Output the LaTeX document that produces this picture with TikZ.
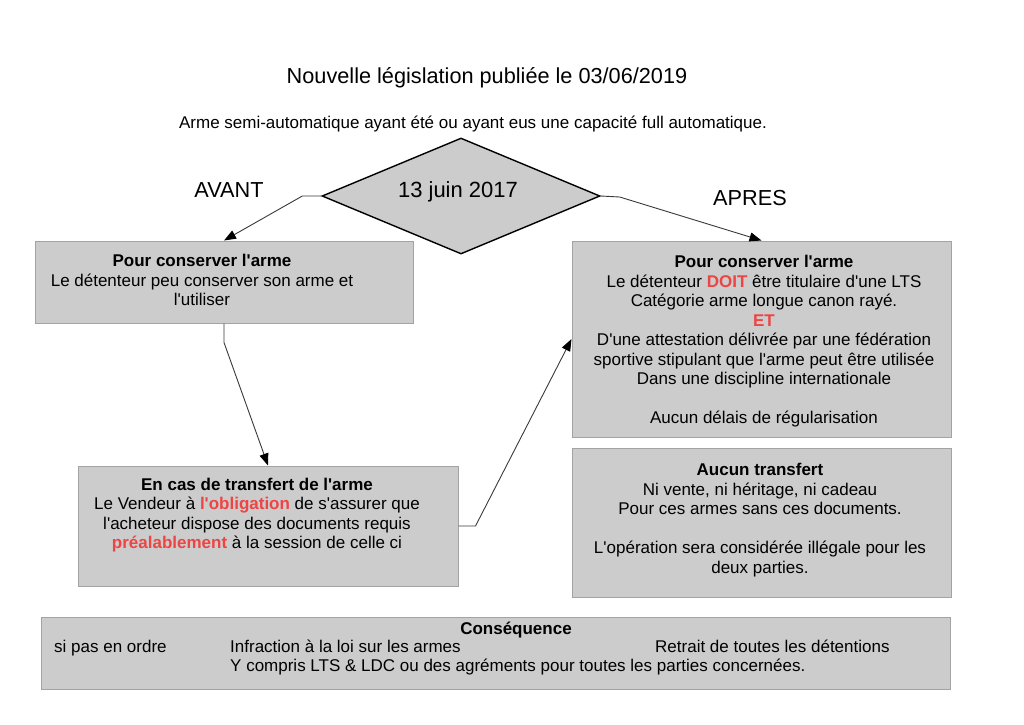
\documentclass[tikz,border=0pt]{standalone}
\usepackage{fontspec}
\setmainfont{Liberation Sans}[Ligatures=TeXOff]
\usetikzlibrary{shapes.geometric,arrows.meta}
\definecolor{boxgray}{HTML}{CCCCCC}
\definecolor{boxline}{HTML}{A3A3A3}
\definecolor{txtred}{HTML}{EE4444}
\definecolor{lncol}{HTML}{3A3A3A}
\begin{document}
\begin{tikzpicture}[x=1pt,y=-1pt,
  box/.style={draw=boxline,fill=boxgray,line width=1pt,inner sep=0pt},
  body/.style={font=\fontsize{17}{19.5}\selectfont,align=center,inner sep=0pt},
  conn/.style={draw=lncol,line width=0.9pt,-{Triangle[length=12pt,width=9pt,color=black]}},
  big/.style={font=\fontsize{21.7}{26}\selectfont,inner sep=0pt},
  lbl/.style={font=\fontsize{17}{19.5}\selectfont,inner sep=0pt,text height=12pt,text depth=3.5pt}]
\fill[white] (0,0) rectangle (1024,724);
\useasboundingbox (0,0) rectangle (1024,724);

% titles
\node[big] (title) at (487,78) {Nouvelle législation publiée le 03/06/2019};
\node[lbl] (sub) at (473,124) {Arme semi-automatique ayant été ou ayant eus une capacité full automatique.};

% diamond
\node[diamond,draw=black,fill=boxgray,line width=1.4pt,minimum width=278pt,minimum height=116pt,inner sep=0pt] (dia) at (461,196) {};
\node[font=\fontsize{22}{26}\selectfont,inner sep=0pt] (dt) at (458,192) {13 juin 2017};
\node[big] (avant) at (229,190) {AVANT};
\node[big] (apres) at (750,198) {APRES};

% boxes
\node[box,minimum width=378pt,minimum height=82pt] (b1) at (224,282) {};
\node[body] (t1) at (202,280) {\textbf{Pour conserver l'arme}\\Le détenteur peu conserver son arme et\\l'utiliser};

\node[box,minimum width=379pt,minimum height=196pt] (b2) at (761.5,339) {};
\node[body] (t2) at (764,341.5) {\textbf{Pour conserver l'arme}\\
Le détenteur \textcolor{txtred}{\textbf{DOIT}} être titulaire d'une LTS\\
Catégorie arme longue canon rayé.\\
\textcolor{txtred}{\textbf{ET}}\\
D'une attestation délivrée par une fédération\\
sportive stipulant que l'arme peut être utilisée\\
Dans une discipline internationale\\[19.5pt]
Aucun délais de régularisation};

\node[box,minimum width=380pt,minimum height=120pt] (b3) at (268,526) {};
\node[body] (t3) at (257,515) {\textbf{En cas de transfert de l'arme}\\
Le Vendeur à \textcolor{txtred}{\textbf{l'obligation}} de s'assurer que\\
l'acheteur dispose des documents requis\\
\textcolor{txtred}{\textbf{préalablement}} à la session de celle ci};

\node[box,minimum width=379pt,minimum height=149pt] (b4) at (761.5,522.5) {};
\node[body] (t4) at (760,520) {\textbf{Aucun transfert}\\
Ni vente, ni héritage, ni cadeau\\
Pour ces armes sans ces documents.\\[19.5pt]
L'opération sera considérée illégale pour les\\
deux parties.};

\node[box,minimum width=909pt,minimum height=72pt] (b5) at (495.5,653) {};
\node[lbl,font=\fontsize{17}{19.5}\selectfont\bfseries] (c0) at (516,630) {Conséquence};
\node[lbl,anchor=west] (c1) at (54,648) {si pas en ordre};
\node[lbl,anchor=west] (c2) at (230,648) {Infraction à la loi sur les armes};
\node[lbl,anchor=west] (c3) at (655,648) {Retrait de toutes les détentions};
\node[lbl,anchor=west] (c4) at (230,667) {Y compris LTS \& LDC ou des agréments pour toutes les parties concernées.};

% connectors
\draw[conn] (dia.west) -- ++(-19,0) -- (b1.north);
\draw[conn] (dia.east) -- ++(19,1) -- (b2.north);
\draw[conn] (b1.south) -- ++(0,19) -- (b3.north);
\draw[conn] (b3.east) -- ++(17,0) -- (b2.west);
\end{tikzpicture}
\end{document}
